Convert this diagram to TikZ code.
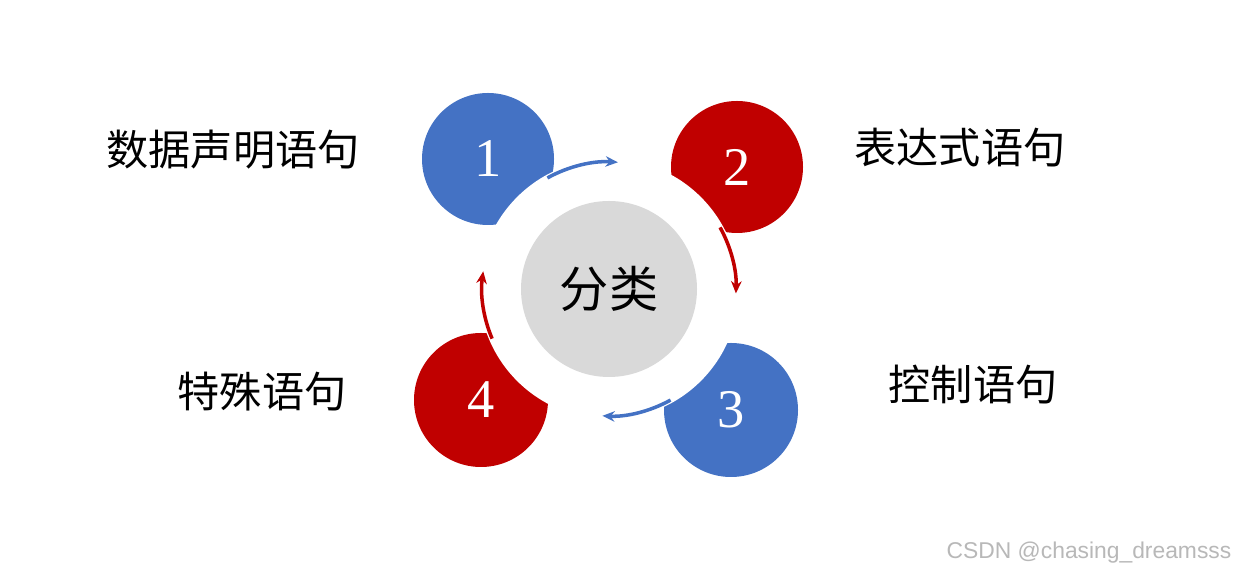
\documentclass[tikz,border=0pt]{standalone}
\usepackage{fontspec}
\setmainfont{Liberation Serif}
\newfontfamily\cjk{Noto Sans CJK SC}
\newfontfamily\wmfont{Liberation Sans}
\usetikzlibrary{arrows.meta, calc}
\definecolor{stepblue}{HTML}{4472C4}
\definecolor{stepred}{HTML}{C00000}
\definecolor{coregray}{HTML}{D9D9D9}
\definecolor{marktext}{HTML}{B8B8B8}

\begin{document}
\begin{tikzpicture}[
  x=0.02cm, y=0.02cm,
  num/.style={text=white, font=\fontsize{31}{31}\selectfont},
  lbl/.style={font=\cjk\fontsize{24}{24}\selectfont, text=black},
  arr/.style={-{Stealth[length=7pt, width=6pt]}, line width=2pt}
]
\fill[white] (0,0) rectangle (1234,574);
\useasboundingbox (0,0) rectangle (1234,574);
\coordinate (ctr) at (609,285);
% Circles
\coordinate (c1) at (488,415);
\coordinate (c2) at (737,407);
\coordinate (c3) at (731,164);
\coordinate (c4) at (481,174);
\fill[stepblue] (c1) circle[radius=66];
\fill[stepred]  (c2) circle[radius=66];
\fill[stepblue] (c3) circle[radius=67];
\fill[stepred]  (c4) circle[radius=67];
% White ring cut
\fill[white] (ctr) circle[radius=130];
% Center
\fill[coregray] (ctr) circle[radius=88];
\node[font=\cjk\fontsize{28}{28}\selectfont] (core) at (ctr) {分类};
% Numbers
\node[num] (n1) at (c1) {1};
\node[num] (n2) at (c2) {2};
\node[num] (n3) at (c3) {3};
\node[num] (n4) at (c4) {4};
% Arrows
\coordinate (a1) at ($(ctr)+(119:127)$);
\coordinate (a2) at ($(ctr)+(29:127)$);
\coordinate (a3) at ($(ctr)+(-61:127)$);
\coordinate (a4) at ($(ctr)+(203:127)$);
\draw[arr, stepblue] (a1) arc[start angle=119, end angle=86, radius=127];
\draw[arr, stepred]  (a2) arc[start angle=29, end angle=-2, radius=127];
\draw[arr, stepblue] (a3) arc[start angle=-61, end angle=-93, radius=127];
\draw[arr, stepred]  (a4) arc[start angle=203, end angle=172, radius=127];
% Labels
\node[lbl] (l1) at (233,424) {数据声明语句};
\node[lbl] (l2) at (960,426) {表达式语句};
\node[lbl] (l3) at (973,189) {控制语句};
\node[lbl] (l4) at (262,182) {特殊语句};
% Watermark
\node[font=\wmfont\fontsize{13}{13}\selectfont, text=marktext] (wm)
      at (1089,21) {CSDN @chasing\_dreamsss};
\end{tikzpicture}
\end{document}
